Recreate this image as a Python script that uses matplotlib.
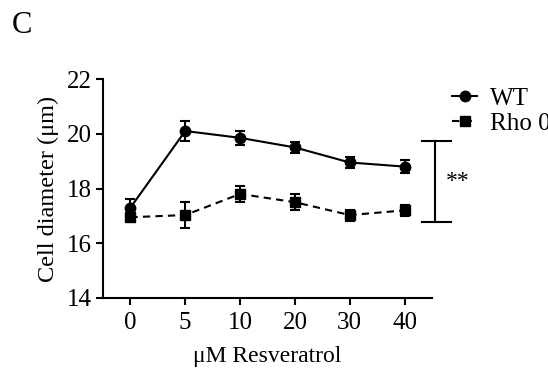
import numpy as np
import matplotlib.pyplot as plt

plt.rcParams['font.family'] = ['Liberation Serif', 'DejaVu Serif']

doses = ['0', '5', '10', '20', '30', '40']
wt_mean = [17.3, 20.1, 19.85, 19.5, 18.95, 18.8]
wt_err = [0.3, 0.35, 0.25, 0.2, 0.2, 0.25]
rho_mean = [16.95, 17.03, 17.8, 17.5, 17.03, 17.2]
rho_err = [0.15, 0.47, 0.3, 0.3, 0.2, 0.2]
sig_range = [16.76, 19.73]

fig = plt.figure(figsize=(5.48, 3.69), dpi=100)
ax = fig.add_axes([103 / 548, 1 - 298 / 369, (432 - 103) / 548, (298 - 79) / 369])

x = np.arange(len(doses))
wt = ax.errorbar(x, wt_mean, yerr=wt_err, color='black', lw=1.5, marker='o', ms=7.5,
                 capsize=3.5, elinewidth=1.5, capthick=1.5)
rho = ax.errorbar(x, rho_mean, yerr=rho_err, color='black', lw=1.5, ls=(0, (3.5, 2.5)),
                  marker='s', ms=7.5, capsize=3.5, elinewidth=1.5, capthick=1.5)

ax.set_xlim(-0.5, 5.5)
ax.set_ylim(14, 22)
ax.set_yticks([14, 16, 18, 20, 22])
ax.set_xticks(x)
ax.set_xticklabels(doses)
ax.spines['top'].set_visible(False)
ax.spines['right'].set_visible(False)
for s in ['left', 'bottom']:
    ax.spines[s].set_linewidth(1.5)
ax.tick_params(width=1.5, length=5, labelsize=18, pad=3)
ax.tick_params(axis='x', pad=5)
ax.set_ylabel('Cell diameter (μm)', fontsize=17.5, labelpad=6)
ax.set_xlabel('μM Resveratrol', fontsize=17, labelpad=9)

# significance bracket
bx = 5.55
ax.plot([bx, bx], sig_range, color='black', lw=1.5, clip_on=False)
for yy in sig_range:
    ax.plot([bx - 0.24, bx + 0.3], [yy, yy], color='black', lw=1.5, clip_on=False)
ax.text(bx + 0.2, np.mean(sig_range), '**', fontsize=17, va='center', ha='left')

ax.legend(handles=[wt[0], rho[0]], labels=['WT', 'Rho 0'], loc='upper left',
          bbox_to_anchor=(1.024, 1.02), frameon=False, fontsize=18,
          handlelength=1.0, handletextpad=0.5, labelspacing=0.1,
          borderpad=0.2, borderaxespad=0.3)

fig.text(12 / 548, 1 - 33 / 369, 'C', fontsize=22)

fig.savefig('out.png', dpi=100)
